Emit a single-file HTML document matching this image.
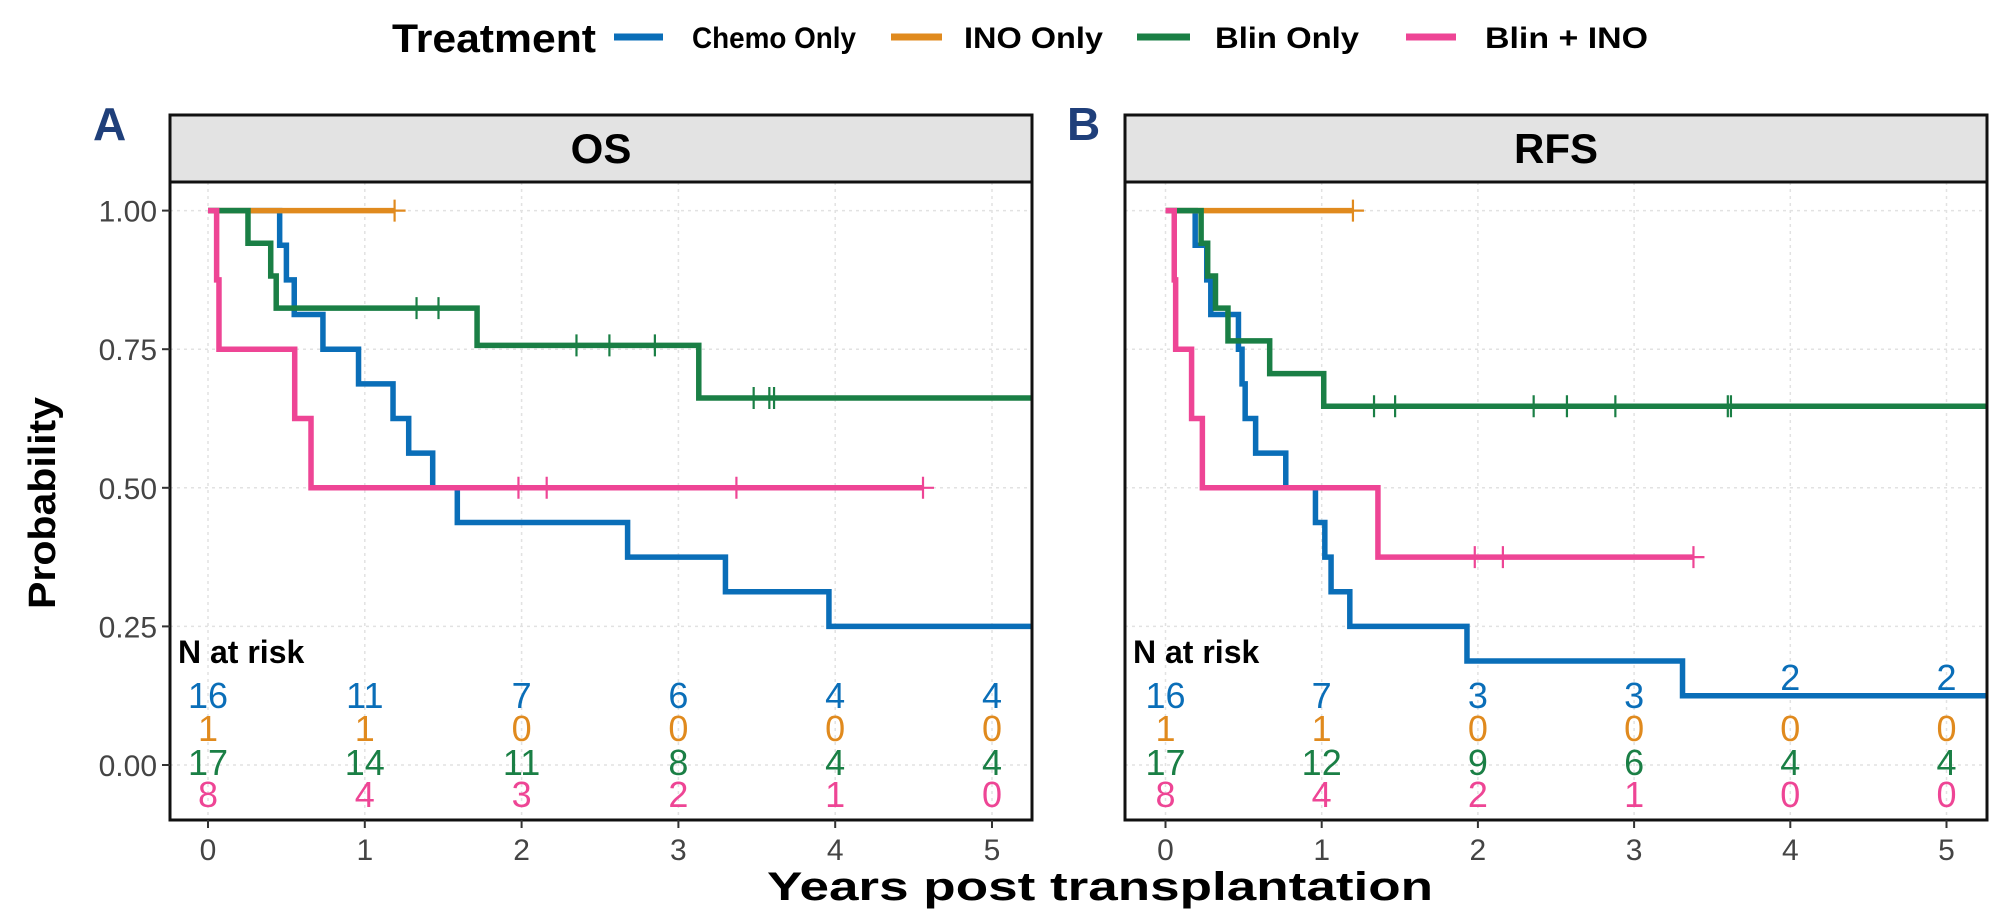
<!DOCTYPE html>
<html><head><meta charset="utf-8">
<style>
html,body{margin:0;padding:0;background:#fff;}
svg{display:block;font-family:"Liberation Sans",Arial,sans-serif;}
</style></head>
<body>
<svg id="chart" width="2010" height="924" viewBox="0 0 2010 924" xmlns="http://www.w3.org/2000/svg">
  <g>
    <text x="392" y="52" font-size="40" font-weight="bold" textLength="204" lengthAdjust="spacingAndGlyphs">Treatment</text>
    <line x1="614" y1="37" x2="663" y2="37" stroke="#0a6eb8" stroke-width="7"/>
    <text x="692" y="48" font-size="30" font-weight="bold" textLength="164" lengthAdjust="spacingAndGlyphs">Chemo Only</text>
    <line x1="891" y1="37" x2="942" y2="37" stroke="#e08a1e" stroke-width="7"/>
    <text x="964" y="48" font-size="30" font-weight="bold" textLength="139" lengthAdjust="spacingAndGlyphs">INO Only</text>
    <line x1="1137" y1="37" x2="1190" y2="37" stroke="#1a7f45" stroke-width="7"/>
    <text x="1215" y="48" font-size="30" font-weight="bold" textLength="144" lengthAdjust="spacingAndGlyphs">Blin Only</text>
    <line x1="1406" y1="37" x2="1456" y2="37" stroke="#ee4595" stroke-width="7"/>
    <text x="1485" y="48" font-size="30" font-weight="bold" textLength="163" lengthAdjust="spacingAndGlyphs">Blin + INO</text>
  </g>
  <text x="93" y="140" font-size="46" font-weight="bold" fill="#1f3f7a">A</text>
  <text x="1067" y="140" font-size="46" font-weight="bold" fill="#1f3f7a">B</text>
  <text transform="translate(55,503) rotate(-90)" text-anchor="middle" font-size="38" font-weight="bold" textLength="212" lengthAdjust="spacingAndGlyphs">Probability</text>
  <text x="1100" y="900" text-anchor="middle" font-size="40" font-weight="bold" textLength="666" lengthAdjust="spacingAndGlyphs">Years post  transplantation</text>
  <g id="panels"></g>
</svg>
<script>
// ---- data ----
const yTicks = [0, 0.25, 0.5, 0.75, 1];
const yTickLabels = ["0.00", "0.25", "0.50", "0.75", "1.00"];
const xTicks = [0, 1, 2, 3, 4, 5];
const xTickLabels = ["0", "1", "2", "3", "4", "5"];
const groups = ["Chemo Only", "INO Only", "Blin Only", "Blin + INO"];

// OS panel
const osChemoTimes = [0.457,0.50,0.55,0.733,0.96,1.18,1.28,1.433,1.59,2.676,3.30,3.96];
const osChemoSurv = [0.9375,0.875,0.8125,0.75,0.6875,0.625,0.5625,0.5,0.4375,0.375,0.3125,0.25];
const osChemoCensor = [];
const osChemoEnd = 5.3;
const osInoTimes = [];
const osInoSurv = [];
const osInoCensor = [1.19];
const osInoEnd = 1.19;
const osBlinTimes = [0.255,0.40,0.435,1.716,3.13];
const osBlinSurv = [0.941,0.882,0.824,0.757,0.662];
const osBlinCensor = [1.33,1.47,2.35,2.56,2.85,3.48,3.58,3.61];
const osBlinEnd = 5.3;
const osBlinInoTimes = [0.055,0.07,0.553,0.657];
const osBlinInoSurv = [0.875,0.75,0.625,0.5];
const osBlinInoCensor = [1.98,2.16,3.37,4.56];
const osBlinInoEnd = 4.56;

// RFS panel
const rfsChemoTimes = [0.19,0.264,0.29,0.467,0.49,0.51,0.577,0.77,0.96,1.02,1.06,1.18,1.93,3.31];
const rfsChemoSurv = [0.9375,0.875,0.8125,0.75,0.6875,0.625,0.5625,0.5,0.4375,0.375,0.3125,0.25,0.1875,0.125];
const rfsChemoCensor = [];
const rfsChemoEnd = 5.3;
const rfsInoTimes = [];
const rfsInoSurv = [];
const rfsInoCensor = [1.20];
const rfsInoEnd = 1.20;
const rfsBlinTimes = [0.228,0.27,0.32,0.40,0.667,1.013];
const rfsBlinSurv = [0.941,0.882,0.824,0.765,0.706,0.647];
const rfsBlinCensor = [1.335,1.47,2.357,2.57,2.88,3.60,3.62];
const rfsBlinEnd = 5.3;
const rfsBlinInoTimes = [0.056,0.065,0.167,0.236,1.36];
const rfsBlinInoSurv = [0.875,0.75,0.625,0.5,0.375];
const rfsBlinInoCensor = [1.98,2.16,3.38];
const rfsBlinInoEnd = 3.38;

// numbers at risk
const osRiskChemo = [16,11,7,6,4,4];
const osRiskIno = [1,1,0,0,0,0];
const osRiskBlin = [17,14,11,8,4,4];
const osRiskBlinIno = [8,4,3,2,1,0];
const rfsRiskChemo = [16,7,3,3,2,2];
const rfsRiskIno = [1,1,0,0,0,0];
const rfsRiskBlin = [17,12,9,6,4,4];
const rfsRiskBlinIno = [8,4,2,1,0,0];

// ---- drawing ----
const NS = "http://www.w3.org/2000/svg";
const colors = ["#0a6eb8", "#e08a1e", "#1a7f45", "#ee4595"];
const root = document.getElementById("panels");
function mk(tag, attrs, parent) {
  const e = document.createElementNS(NS, tag);
  for (const k in attrs) e.setAttribute(k, attrs[k]);
  parent.appendChild(e);
  return e;
}
const plotTop = 182, plotBottom = 820, y0 = 765, yScale = 554.4;
function yPos(p) { return y0 - p * yScale; }

function drawPanel(key, title, left, right, x0px, pxPerYear, series, risk) {
  const xPos = t => x0px + t * pxPerYear;
  const g = mk("g", {}, root);
  
  
  const clipId = "clip-" + key;
  const cp = mk("clipPath", {id: clipId}, g);
  mk("rect", {x: left, y: plotTop, width: right - left, height: plotBottom - plotTop}, cp);
  const strip = mk("rect", {x: left, y: 115, width: right - left, height: plotTop - 115, fill: "#e3e3e3", stroke: "#111", "stroke-width": 3}, g);
  
  
  const st = mk("text", {x: (left + right) / 2, y: 163, "text-anchor": "middle", "font-size": 42, "font-weight": "bold"}, g);
  st.textContent = title;
  
  
  yTicks.forEach(v => {
    const l = mk("line", {x1: left, x2: right, y1: yPos(v), y2: yPos(v), stroke: "#e2e2e2", "stroke-width": 1.5, "stroke-dasharray": "3,4"}, g);
    
    
  });
  xTicks.forEach(v => {
    const l = mk("line", {x1: xPos(v), x2: xPos(v), y1: plotTop, y2: plotBottom, stroke: "#e2e2e2", "stroke-width": 1.5, "stroke-dasharray": "3,4"}, g);
    
    
  });
  const cg = mk("g", {"clip-path": "url(#" + clipId + ")"}, g);
  series.forEach((s, i) => {
    let d = "M" + xPos(0) + "," + yPos(1);
    s.times.forEach((t, j) => {
      d += " H" + xPos(t) + " V" + yPos(s.surv[j]);
    });
    d += " H" + xPos(s.end);
    const p = mk("path", {d: d, fill: "none", stroke: colors[i], "stroke-width": 5.5, "stroke-linejoin": "miter"}, cg);
    
    
    s.censor.forEach(t => {
      let sv = 1;
      s.times.forEach((tt, j) => { if (tt <= t) sv = s.surv[j]; });
      const cx = xPos(t), cy = yPos(sv);
      const c = mk("path", {d: "M" + cx + "," + (cy - 11) + " V" + (cy + 11) + " M" + (cx - 11) + "," + cy + " H" + (cx + 11), stroke: colors[i], "stroke-width": 2.2, fill: "none"}, cg);
      
      
    });
  });
  const nr = mk("text", {x: left + 8, y: 663, "font-size": 32, "font-weight": "bold"}, g);
  nr.textContent = "N at risk";
  
  
  const rowY = [708, 741, 775, 807];
  risk.forEach((row, i) => {
    row.vals.forEach((v, j) => {
      const ty = rowY[i] - (row.raise ? row.raise[j] : 0);
      const t = mk("text", {x: xPos(xTicks[j]), y: ty, "text-anchor": "middle", "font-size": 36, fill: colors[i]}, g);
      t.textContent = v;
      
      
    });
  });
  const b = mk("rect", {x: left, y: plotTop, width: right - left, height: plotBottom - plotTop, fill: "none", stroke: "#111", "stroke-width": 3}, g);
  
  
  xTicks.forEach((v, j) => {
    mk("line", {x1: xPos(v), x2: xPos(v), y1: plotBottom, y2: plotBottom + 8, stroke: "#333", "stroke-width": 2}, g);
    const t = mk("text", {x: xPos(v), y: 860, "text-anchor": "middle", "font-size": 30, fill: "#444"}, g);
    t.textContent = xTickLabels[j];
    
    
  });
}

drawPanel("os", "OS", 170, 1032, 208, 156.8, [
  {times: osChemoTimes, surv: osChemoSurv, censor: osChemoCensor, end: osChemoEnd},
  {times: osInoTimes, surv: osInoSurv, censor: osInoCensor, end: osInoEnd},
  {times: osBlinTimes, surv: osBlinSurv, censor: osBlinCensor, end: osBlinEnd},
  {times: osBlinInoTimes, surv: osBlinInoSurv, censor: osBlinInoCensor, end: osBlinInoEnd}
], [{vals: osRiskChemo}, {vals: osRiskIno}, {vals: osRiskBlin}, {vals: osRiskBlinIno}]);

drawPanel("rfs", "RFS", 1125, 1987, 1165.5, 156.2, [
  {times: rfsChemoTimes, surv: rfsChemoSurv, censor: rfsChemoCensor, end: rfsChemoEnd},
  {times: rfsInoTimes, surv: rfsInoSurv, censor: rfsInoCensor, end: rfsInoEnd},
  {times: rfsBlinTimes, surv: rfsBlinSurv, censor: rfsBlinCensor, end: rfsBlinEnd},
  {times: rfsBlinInoTimes, surv: rfsBlinInoSurv, censor: rfsBlinInoCensor, end: rfsBlinInoEnd}
], [{vals: rfsRiskChemo, raise: [0,0,0,0,18,18]}, {vals: rfsRiskIno}, {vals: rfsRiskBlin}, {vals: rfsRiskBlinIno}]);

const svg = document.getElementById("chart");
yTicks.forEach((v, i) => {
  mk("line", {x1: 162, x2: 170, y1: yPos(v), y2: yPos(v), stroke: "#333", "stroke-width": 2}, svg);
  const t = mk("text", {x: 157, y: yPos(v) + 11, "text-anchor": "end", "font-size": 30, fill: "#444"}, svg);
  t.textContent = yTickLabels[i];
  
  
});
</script>
</body></html>
